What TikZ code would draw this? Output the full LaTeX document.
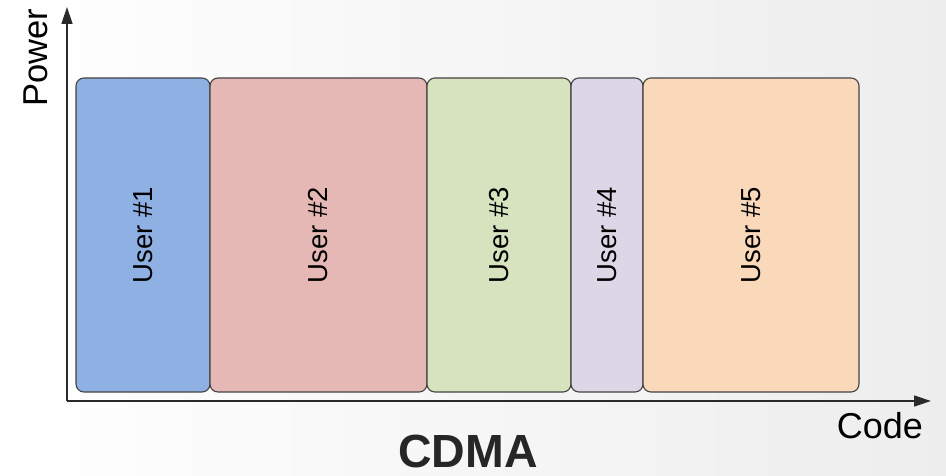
\documentclass[tikz,border=0pt]{standalone}
\usepackage{fontspec}
\setmainfont{Liberation Sans}
\usetikzlibrary{arrows.meta}
\definecolor{edge}{HTML}{444444}
\definecolor{axisc}{HTML}{2A2A2A}
\definecolor{cblue}{HTML}{8EB0E3}
\definecolor{cpink}{HTML}{E6B8B5}
\definecolor{cgreen}{HTML}{D7E3BF}
\definecolor{clav}{HTML}{DCD6E6}
\definecolor{cpeach}{HTML}{FAD8BA}
\tikzset{
  userbox/.style={draw=edge, line width=1.1pt, rounded corners=8pt,
    minimum height=314pt, inner sep=0pt, font=\fontsize{27.5}{32}\selectfont},
  axisline/.style={draw=axisc, line width=1.4pt,
    -{Triangle[length=17pt,width=11pt]}},
  axislabel/.style={inner sep=0pt}
}
\begin{document}
\begin{tikzpicture}[x=1pt,y=-1pt]
  % canvas with a faint grey wash towards the right
  \shade[left color=white, right color=black!7, shading angle=90]
    (0,0) rectangle (946,476);
  \useasboundingbox (0,0) rectangle (946,476);

  % axes
  \coordinate (O) at (67,401);
  \coordinate (ytip) at (67,7);
  \coordinate (xtip) at (931,401);

  % one box per user
  \node[userbox, fill=cblue,  minimum width=134pt] (u1) at (143,235) {\rotatebox{90}{User \#1}};
  \node[userbox, fill=cpink,  minimum width=217pt] (u2) at (318.5,235) {\rotatebox{90}{User \#2}};
  \node[userbox, fill=cgreen, minimum width=144pt] (u3) at (499,235) {\rotatebox{90}{User \#3}};
  \node[userbox, fill=clav,   minimum width=72pt]  (u4) at (607,235) {\rotatebox{90}{User \#4}};
  \node[userbox, fill=cpeach, minimum width=216pt] (u5) at (751,235) {\rotatebox{90}{User \#5}};

  \draw[axisline] (O) -- (ytip);
  \draw[axisline] (O) -- (xtip);

  \node[axislabel, rotate=90, font=\fontsize{34.5}{40}\selectfont] (power) at (36,58) {Power};
  \node[axislabel, font=\fontsize{36}{42}\selectfont] (code) at (880,426) {Code};
  \node[font=\bfseries\fontsize{46.5}{52}\selectfont, text=black!85, inner sep=0pt]
    (title) at (468,451) {CDMA};
\end{tikzpicture}
\end{document}
